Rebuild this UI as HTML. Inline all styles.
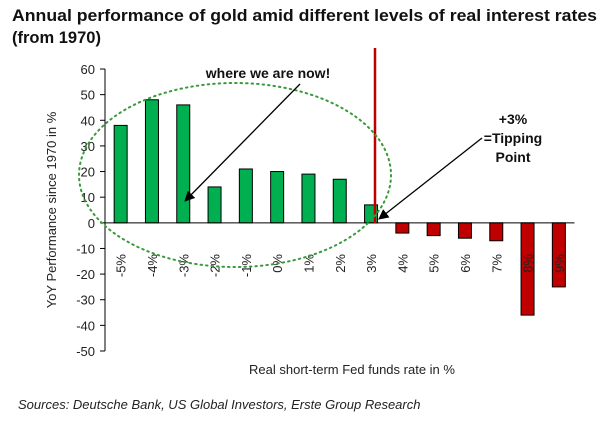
<!DOCTYPE html>
<html><head><meta charset="utf-8"><style>
body{margin:0;background:#fff;}
svg{display:block;font-family:"Liberation Sans",Arial,sans-serif;}
</style></head><body>
<svg id="chart" width="609" height="421" viewBox="0 0 609 421">
<defs><marker id="ah" viewBox="0 0 10 10" refX="9" refY="5" markerWidth="8" markerHeight="8" orient="auto"><path d="M0,0 L10,5 L0,10 z" fill="#000"/></marker></defs>
<text x="12" y="21" font-size="16.5" font-weight="bold" fill="#111" textLength="585" lengthAdjust="spacingAndGlyphs">Annual performance of gold amid different levels of real interest rates</text>
<text x="12" y="43" font-size="16.5" font-weight="bold" fill="#111">(from 1970)</text>
<g id="yaxis"></g>
<g id="bars"></g>
<g id="xaxis"></g>
<text transform="translate(56,210) rotate(-90)" text-anchor="middle" font-size="13" fill="#222">YoY Performance since 1970 in %</text>
<text x="352" y="374" text-anchor="middle" font-size="13" fill="#222">Real short-term Fed funds rate in %</text>
<text x="18" y="409" font-size="13" font-style="italic" fill="#222">Sources: Deutsche Bank, US Global Investors, Erste Group Research</text>
<line x1="375" y1="48" x2="375" y2="223" stroke="#c00000" stroke-width="2.5"/>
<ellipse cx="235" cy="175" rx="156" ry="92" fill="none" stroke="#3a9a3a" stroke-width="2" stroke-dasharray="1.5,4" stroke-linecap="round"/>
<text x="268" y="78" text-anchor="middle" font-size="14" font-weight="bold" fill="#111">where we are now!</text>
<line x1="300" y1="84" x2="185" y2="201" stroke="#000" stroke-width="1.3" marker-end="url(#ah)"/>
<text x="513" y="124" text-anchor="middle" font-size="14" font-weight="bold" fill="#111">+3%</text>
<text x="513" y="143" text-anchor="middle" font-size="14" font-weight="bold" fill="#111">=Tipping</text>
<text x="513" y="162" text-anchor="middle" font-size="14" font-weight="bold" fill="#111">Point</text>
<line x1="482" y1="138" x2="379" y2="219" stroke="#000" stroke-width="1.3" marker-end="url(#ah)"/>
</svg>
<script>
const categories = ["-5%","-4%","-3%","-2%","-1%","0%","1%","2%","3%","4%","5%","6%","7%","8%","9%"];
const values = [38,48,46,14,21,20,19,17,7,-4,-5,-6,-7,-36,-25];
const yTicks = [60,50,40,30,20,10,0,-10,-20,-30,-40,-50];
const NS = "http://www.w3.org/2000/svg";
const left = 105, right = 574.5, yTop = 69, yBot = 351, vMax = 60, vMin = -50;
const bw = (right - left) / categories.length;
function y(v){ return yTop + (vMax - v) * (yBot - yTop) / (vMax - vMin); }
function xc(i){ return left + (i + 0.5) * bw; }
function mk(tag, attrs, parent){ const e = document.createElementNS(NS, tag); for (const k in attrs) e.setAttribute(k, attrs[k]); parent.appendChild(e); return e; }
const ya = document.getElementById("yaxis"), bars = document.getElementById("bars"), xa = document.getElementById("xaxis");
const yl = mk("line", {x1:left, y1:y(vMax), x2:left, y2:y(vMin), stroke:"#000", "stroke-width":1}, ya);


yTicks.forEach(t => {
  const tk = mk("line", {x1:left-5, y1:y(t), x2:left, y2:y(t), stroke:"#000"}, ya);
  
  
  const tx = mk("text", {x:left-10, y:y(t)+5, "text-anchor":"end", "font-size":13, fill:"#222"}, ya);
  tx.textContent = t;
  
  
});
values.forEach((v, i) => {
  const w = 13, top = Math.min(y(v), y(0)), h = Math.abs(y(v) - y(0));
  const r = mk("rect", {x:xc(i)-w/2, y:top, width:w, height:h, fill: v >= 0 ? "#00b050" : "#c00000", stroke:"#000", "stroke-width":1}, bars);
  
  
});
const xl = mk("line", {x1:left, y1:y(0), x2:right, y2:y(0), stroke:"#000", "stroke-width":1}, xa);


categories.forEach((c, i) => {
  const t = mk("text", {transform:"translate(" + (xc(i)+5) + ",254) rotate(-90)", "text-anchor":"end", "font-size":13, fill:"#222"}, xa);
  t.textContent = c;
  
  
});
</script>
</body></html>
